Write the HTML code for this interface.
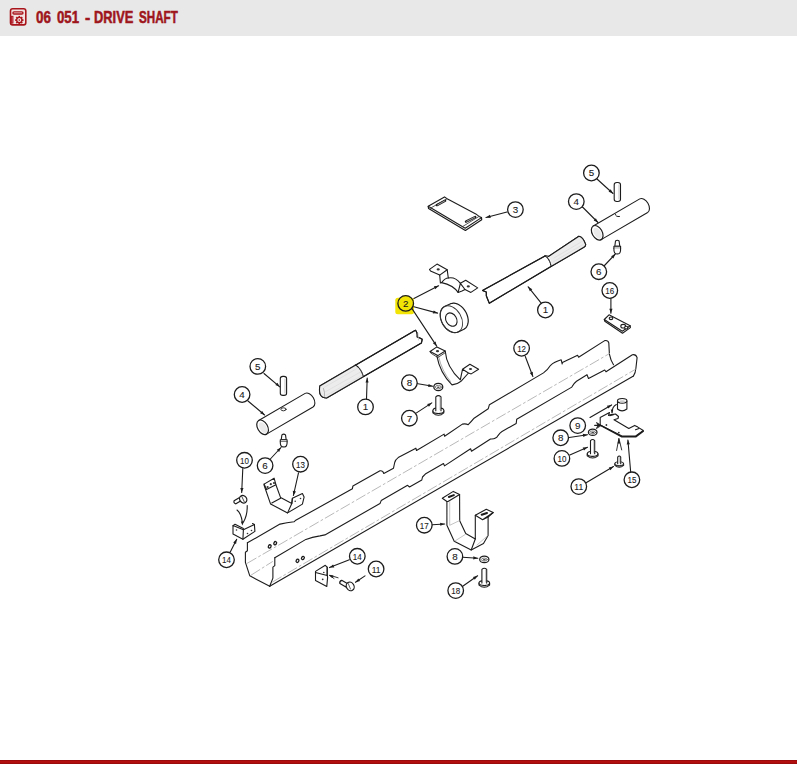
<!DOCTYPE html>
<html><head><meta charset="utf-8"><style>
html,body{margin:0;padding:0;background:#fff;width:797px;height:765px;overflow:hidden;position:relative;font-family:"Liberation Sans",sans-serif;}
#hdr{position:absolute;left:0;top:0;width:797px;height:36px;background:#e8e8e8;}
.tw{position:absolute;top:7px;font-weight:bold;font-size:16.5px;line-height:20px;color:#9e151b;white-space:nowrap;transform-origin:0 0;-webkit-text-stroke:0.55px #9e151b;}
#bot{position:absolute;left:0;top:759.8px;width:797px;height:4px;background:linear-gradient(#8e0a0a,#b30f0f 35%,#b00e0e 65%,#8e0a0a);}
svg{position:absolute;left:0;top:0;}
</style></head><body>
<div id="hdr"></div>
<svg width="40" height="36" style="position:absolute;left:0;top:0">
<rect x="10.5" y="8.8" width="15.3" height="16.1" rx="2.2" fill="#f2e2e2" stroke="#a8151b" stroke-width="1.6"/>
<rect x="12.9" y="11.8" width="10.1" height="2.2" rx="1.1" fill="#f4dcdc" stroke="#a8151b" stroke-width="1.3"/>
<rect x="11.4" y="16.3" width="1.6" height="6.8" fill="#d9607a" stroke="#a8151b" stroke-width="0.9"/>
<g transform="translate(19.3 20.1)"><circle r="2.7" fill="none" stroke="#a8151b" stroke-width="1.4"/><rect x="-0.8" y="-4.2" width="1.6" height="1.8" fill="#a8151b" transform="rotate(0)"/><rect x="-0.8" y="-4.2" width="1.6" height="1.8" fill="#a8151b" transform="rotate(45)"/><rect x="-0.8" y="-4.2" width="1.6" height="1.8" fill="#a8151b" transform="rotate(90)"/><rect x="-0.8" y="-4.2" width="1.6" height="1.8" fill="#a8151b" transform="rotate(135)"/><rect x="-0.8" y="-4.2" width="1.6" height="1.8" fill="#a8151b" transform="rotate(180)"/><rect x="-0.8" y="-4.2" width="1.6" height="1.8" fill="#a8151b" transform="rotate(225)"/><rect x="-0.8" y="-4.2" width="1.6" height="1.8" fill="#a8151b" transform="rotate(270)"/><rect x="-0.8" y="-4.2" width="1.6" height="1.8" fill="#a8151b" transform="rotate(315)"/><circle r="0.8" fill="#a8151b"/></g>
</svg>
<div class="tw" style="left:36.3px;transform:scaleX(0.8111)">06</div><div class="tw" style="left:56.8px;transform:scaleX(0.8000)">051</div><div class="tw" style="left:84.5px;transform:scaleX(0.9600)">-</div><div class="tw" style="left:94.2px;transform:scaleX(0.7796)">DRIVE</div><div class="tw" style="left:139.0px;transform:scaleX(0.7055)">SHAFT</div>
<div id="bot"></div>
<svg width="797" height="765" viewBox="0 0 797 765" style="position:absolute;left:0;top:0" font-family="Liberation Sans, sans-serif">
<g fill="none" stroke="#1c1c1c" stroke-width="1.1" stroke-linejoin="round" stroke-linecap="round">
<path d="M247.4,542.8 L280,524.1 Q287,522.5 294,521.8 L295.3,520.6 L352.4,488.8 L352.9,485.9 L380,470.8 Q383,470.5 383.8,473.5 L393.5,468.2 L394.7,462.5 Q395.5,459.5 398.2,457.6 L415.9,448.2 L416.5,450.5 L444.1,434.1 L444.6,436.3 L462.4,424.1 Q466,423.5 468.2,424.7 Q471,422 474.1,418.2 L488.2,408.8 L489.4,404.7 L543.5,372.9 Q548,369.5 550.6,365.3 Q554,362 561.2,359.8 L562.2,364 L562.4,362.4 L577.6,355.3 L578.6,357.3 L604.7,340.6 Q608,340 608.8,342.9 L609.4,354.1 Q610.5,360 613.5,364.7"/>
<path d="M274.8,557.7 L305.9,539.4 Q312,537 320,535.9 L324.9,534.9 L380,503.5 L381.2,500.6 L407.6,485.3 L409.5,487 L421.8,480 L422.5,477 L425.3,474.1 L443.5,463.5 L444.5,465.9 L470.6,448.8 L471.5,451.2 L490.5,439 Q496,439.5 498,435.6 Q500,432.5 502,431.4 L516.2,423.5 L516.7,419.3 L571.8,387.1 Q574,383 576.5,381.2 L587,374.7 L588.5,378.5 L604.7,370 L606,371.8 L632.4,354.7 Q636,354 637.1,357.6 L635.9,368.2 Q635.5,373 633.5,375.9"/>
<path d="M269.7,586.3 L633.5,375.9"/>
<path d="M247.4,542.8 L247.4,550.7 L245.4,552.2 L245.4,562.4 L249.8,575.8 L269.7,586.3"/>
<path d="M274.8,557.7 L274.8,565.6 L272.9,567.1 L272.9,578.1 L269.7,586.3"/>
<path d="M247.4,563.2 L609.4,353.6" stroke="#b0b0b0" stroke-width="0.9" stroke-dasharray="10 3 2 3"/>
<path d="M251.3,575 L272.5,561.6" stroke="#b0b0b0" stroke-width="0.9" stroke-dasharray="10 3 2 3"/>
<path d="M272.5,582 L635.3,369.4" stroke="#b0b0b0" stroke-width="0.9" stroke-dasharray="10 3 2 3"/>
<ellipse cx="269.7" cy="546.4" rx="1.3" ry="1.7" transform="rotate(30 269.7 546.4)" fill="#fff" stroke-width="1.3"/>
<ellipse cx="275.2" cy="543.2" rx="1.3" ry="1.7" transform="rotate(30 275.2 543.2)" fill="#fff" stroke-width="1.3"/>
<ellipse cx="297.5" cy="560.8" rx="1.3" ry="1.7" transform="rotate(30 297.5 560.8)" fill="#fff" stroke-width="1.3"/>
<ellipse cx="302.9" cy="558" rx="1.3" ry="1.7" transform="rotate(30 302.9 558)" fill="#fff" stroke-width="1.3"/>
<path d="M482.5,290.5 L545,255.9 Q547,255.5 548.5,256.5 L578.9,236.3 Q583,237 585.7,244.6 Q585.5,246.5 583.4,247.6 L551,266.5 L489.3,303.3 Q487.5,299 486.3,295.8 L486.3,292 Z" fill="#fff"/>
<path d="M548.5,256.5 L578.9,236.3 Q583,237 585.7,244.6 Q585.5,246.5 583.4,247.6 L551.5,266 Q551,259 548.5,256.5Z" fill="#ececec" stroke="none"/>
<path d="M554,258 L582,241.5 M553,262 L583,244.5" stroke="#d8d8d8" stroke-width="0.6"/>
<path d="M482.5,290.5 L545,255.9 M548.5,256.5 L578.9,236.3 Q583,237 585.7,244.6 Q585.5,246.5 583.4,247.6 L551,266.5 L489.3,303.3 Q487.5,299 486.3,295.8 L486.3,292 L482.5,290.5"/>
<path d="M545,255.9 Q550,258.9 551,266.5" stroke-dasharray="1.6 0.9"/>
<line x1="541.4" y1="303.3" x2="528.2" y2="286.8"/>
<path d="M528.2,286.8 L532.3,289.3 L529.8,291.3Z" fill="#1c1c1c" stroke="none"/>
<circle cx="545.4" cy="310" r="7.8" fill="#fff" stroke="#1c1c1c" stroke-width="1.3"/>
<text x="545.4" y="313.4" font-size="9.8" text-anchor="middle" fill="#1a1a1a" stroke="#1a1a1a" stroke-width="0.1">1</text>
<path d="M319.8,386 L415.4,330.3 Q417.5,332 417.2,337 Q420,338 422.2,339.3 L421.4,343.1 L326.6,398 Q318,398 319.8,386 Z" fill="#fff"/>
<path d="M319.8,386 L355.2,364.9 Q361,368 363.5,377 L326.6,398 Q318,398 319.8,386 Z" fill="#ececec" stroke="none"/>
<path d="M324,387.5 L357,368.5 M325,392 L360.5,372 M326,395.5 L362,375.5" stroke="#d8d8d8" stroke-width="0.6"/>
<path d="M319.8,386 L415.4,330.3 Q417.5,332 417.2,337 Q420,338 422.2,339.3 L421.4,343.1 L326.6,398 Q318,398 319.8,386"/>
<path d="M323.5,388.5 Q325,392 324.5,396.5" stroke-width="0.7" stroke="#999"/>
<path d="M355.2,364.9 Q361,368 363.5,377" stroke-dasharray="1.6 0.9"/>
<path d="M418,333.5 L418.5,340" stroke="#bbb" stroke-width="0.7"/>
<line x1="366.5" y1="399" x2="367.2" y2="378"/>
<path d="M367.2,378.0 L368.6,382.6 L365.5,382.4Z" fill="#1c1c1c" stroke="none"/>
<circle cx="365.5" cy="406.9" r="7.8" fill="#fff" stroke="#1c1c1c" stroke-width="1.3"/>
<text x="365.5" y="410.3" font-size="9.8" text-anchor="middle" fill="#1a1a1a" stroke="#1a1a1a" stroke-width="0.1">1</text>
<path d="M593.25,225.96 L639.75,198.86 A5,7.9 -30 0 1 647.65,212.54 L601.15,239.64" fill="#fff"/>
<ellipse cx="597.2" cy="232.8" rx="5" ry="7.9" transform="rotate(-30 597.2 232.8)" fill="#fff" stroke-width="1.2"/>
<ellipse cx="597.6" cy="233.2" rx="3.3" ry="6.1" transform="rotate(-30 597.6 233.2)" fill="#eaeaea" stroke="none"/>
<path d="M615.5,214.5 Q615.5,217 619.5,216.5" stroke-width="1"/>
<line x1="582.5" y1="207" x2="598" y2="222.5"/>
<path d="M598.0,222.5 L593.7,220.4 L595.9,218.2Z" fill="#1c1c1c" stroke="none"/>
<circle cx="576.3" cy="201.6" r="7.8" fill="#fff" stroke="#1c1c1c" stroke-width="1.3"/>
<text x="576.3" y="205.0" font-size="9.8" text-anchor="middle" fill="#1a1a1a" stroke="#1a1a1a" stroke-width="0.1">4</text>
<rect x="614.2" y="182.5" width="6.3" height="19" rx="2.6" ry="2.2" fill="#fff"/>
<path d="M619,185 L619,199" stroke="#aaa" stroke-width="0.7"/>
<line x1="597" y1="179" x2="613" y2="193.5"/>
<path d="M613.0,193.5 L608.6,191.7 L610.7,189.3Z" fill="#1c1c1c" stroke="none"/>
<circle cx="591.4" cy="173" r="7.8" fill="#fff" stroke="#1c1c1c" stroke-width="1.3"/>
<text x="591.4" y="176.4" font-size="9.8" text-anchor="middle" fill="#1a1a1a" stroke="#1a1a1a" stroke-width="0.1">5</text>
<path d="M615.5,241.0 Q617.3,239.5 619.1,241.0 L619.8,246.3 L614.8,246.3 Z" fill="#fff"/>
<path d="M613.9,246.3 L620.6,246.3 L620.6,248.3 L613.9,248.3 Z" fill="#fff"/>
<path d="M613.9,248.3 Q613.6,254.4 617.3,253.9 Q620.9,254.4 620.6,248.3" fill="#fff"/>
<line x1="604.5" y1="265.5" x2="615.3" y2="254"/>
<path d="M615.3,254.0 L613.4,258.4 L611.1,256.2Z" fill="#1c1c1c" stroke="none"/>
<circle cx="598.8" cy="271.7" r="7.8" fill="#fff" stroke="#1c1c1c" stroke-width="1.3"/>
<text x="598.8" y="275.1" font-size="9.8" text-anchor="middle" fill="#1a1a1a" stroke="#1a1a1a" stroke-width="0.1">6</text>
<path d="M604.3,319.5 L609,314.8 L630.2,325.8 L622.3,331.3 Z" fill="#fff"/>
<path d="M604.3,319.5 L604.8,321.3 L622.5,333.2 L630.4,327.6 L630.2,325.8" />
<ellipse cx="611" cy="318.3" rx="1.8" ry="1.3" fill="#fff"/>
<ellipse cx="623.2" cy="326.2" rx="2.4" ry="1.8" fill="#fff"/>
<ellipse cx="626.2" cy="327.6" rx="1.6" ry="1.4" fill="#fff"/>
<line x1="610.9" y1="298.4" x2="610.9" y2="313.3"/>
<path d="M610.9,313.3 L609.3,308.8 L612.5,308.8Z" fill="#1c1c1c" stroke="none"/>
<circle cx="609.8" cy="290.5" r="7.8" fill="#fff" stroke="#1c1c1c" stroke-width="1.3"/>
<text x="609.8" y="293.9" font-size="9.8" text-anchor="middle" fill="#1a1a1a" stroke="#1a1a1a" stroke-width="0.1" textLength="8.9" lengthAdjust="spacingAndGlyphs">16</text>
<path d="M428.2,206.3 L444.5,196.9 L447,198.8 L449.5,200.1 L475.8,213.9 L479,216.4 L481.5,217.6 L465.2,228.3 Z" fill="#fff"/>
<path d="M428.2,206.3 L428.6,208.6 L465.4,230.4 L481.7,219.7 L481.5,217.6" stroke-width="1.2"/>
<path d="M447,198.8 L430.4,208.2 M479,216.4 L463.2,226.2" stroke-width="0.9" stroke="#444"/>
<path d="M436.9,205.1 L445.1,200.7 M466,221.6 L475.2,217" stroke-width="2.4"/>
<path d="M437.6,204.9 L444.6,201 M466.7,221.3 L474.6,217.3" stroke-width="0.7" stroke="#ddd"/>
<line x1="507" y1="212" x2="486" y2="217.5"/>
<path d="M486.0,217.5 L489.9,214.8 L490.8,217.9Z" fill="#1c1c1c" stroke="none"/>
<circle cx="515.4" cy="209.6" r="7.8" fill="#fff" stroke="#1c1c1c" stroke-width="1.3"/>
<text x="515.4" y="213.0" font-size="9.8" text-anchor="middle" fill="#1a1a1a" stroke="#1a1a1a" stroke-width="0.1">3</text>
<path d="M429.5,269.4 L437,264.1 L447.2,269.8 L448.3,278 Q455,276.5 460.4,283.3 L465.7,280.3 L477.7,287.9 L470.9,292.4 L465,289.5 L462,291 L458.1,292.4 Q453,285 441.6,282.6 L440.4,283 L439.7,275.1 L430.5,271 Z" fill="#fff"/>
<path d="M439.7,275.1 L447.2,269.8 M458.1,292.4 L460.4,283.3 M460.4,283.3 L465,289.5 M441.6,282.6 Q445,278 448.3,278"/>
<ellipse cx="438.2" cy="269.4" rx="1.6" ry="1.1" fill="#333" stroke="none"/>
<ellipse cx="468.3" cy="286.4" rx="1.6" ry="1.1" fill="#333" stroke="none"/>
<path d="M440.2,315.0 L440.2,313.9 L440.4,312.8 L440.6,311.8 L440.9,310.9 L441.3,310.0 L441.7,309.2 L442.2,308.4 L442.8,307.8 L443.5,307.2 L444.2,306.7 L445.0,306.3 L450.6,303.7 L451.4,303.5 L452.3,303.3 L453.2,303.2 L454.1,303.2 L455.1,303.3 L456.0,303.5 L457.0,303.9 L458.0,304.3 L458.9,304.8 L459.9,305.4 L460.8,306.1 L461.7,306.8 L462.6,307.7 L463.4,308.6 L464.2,309.6 L464.9,310.6 L465.6,311.7 L466.2,312.8 L466.7,313.9 L467.1,315.0 L467.5,316.2 L467.8,317.4 L468.0,318.5 L468.2,319.7 L468.2,320.8 L468.2,321.9 L468.0,323.0 L467.8,324.0 L467.5,324.9 L467.1,325.8 L466.7,326.6 L466.2,327.4 L465.6,328.0 L464.9,328.6 L464.2,329.1 L463.4,329.5 L457.8,332.1 L457.0,332.3 L456.1,332.5 L455.2,332.6 L454.3,332.6 L453.3,332.5 L452.4,332.3 L451.4,331.9 L450.4,331.5 L449.5,331.0 L448.5,330.4 L447.6,329.7 L446.7,329.0 L445.8,328.1 L445.0,327.2 L444.2,326.2 L443.5,325.2 L442.8,324.1 L442.2,323.0 L441.7,321.9 L441.3,320.8 L440.9,319.6 L440.6,318.4 L440.4,317.3 L440.2,316.1Z" fill="#fff" stroke-width="1.2"/>
<ellipse cx="451.4" cy="319.2" rx="9.9" ry="14.4" transform="rotate(-30 451.4 319.2)" fill="none" stroke-width="0.9" stroke="#333"/>
<ellipse cx="451.3" cy="319.6" rx="5.3" ry="7.1" transform="rotate(-30 451.3 319.6)" fill="#fff" stroke-width="1.1"/>
<path d="M430.1,351.5 L436.9,346.9 L445.2,351 L437.8,355.6 Z" fill="#fff"/>
<path d="M436.9,356.1 Q440,373 452,384.9 Q458,384 461.2,381.2 L468.5,373 L462.5,369.3 L469.9,364.3 L478.6,369.3 L471.2,373.9 L468.5,373 M445.2,351 Q446.5,367 460.3,379.9 L462.5,369.3" stroke-width="1.1"/>
<path d="M438.6,356.5 Q441.8,371 450.5,381.5" stroke-width="0.7" stroke="#888"/>
<path d="M430.1,351.5 L430.6,353 L437.8,357.5 L445.4,352.6" stroke-width="0.8"/>
<ellipse cx="437.5" cy="351.2" rx="1.6" ry="1.1" fill="#333" stroke="none"/>
<ellipse cx="470.5" cy="369" rx="1.6" ry="1.1" fill="#333" stroke="none"/>
<rect x="395.3" y="297.8" width="18.7" height="16.5" rx="2.5" fill="#f2e405" stroke="none"/>
<line x1="413.9" y1="298.5" x2="438.6" y2="285.7"/>
<path d="M438.6,285.7 L435.3,289.2 L433.9,286.3Z" fill="#1c1c1c" stroke="none"/>
<line x1="413.9" y1="306.7" x2="437.6" y2="313.1"/>
<path d="M437.6,313.1 L432.8,313.5 L433.7,310.4Z" fill="#1c1c1c" stroke="none"/>
<line x1="412" y1="308.6" x2="436.7" y2="346.1"/>
<path d="M436.7,346.1 L432.9,343.2 L435.6,341.5Z" fill="#1c1c1c" stroke="none"/>
<circle cx="405.7" cy="303.4" r="7.8" fill="#f2e405" stroke="#1c1c1c" stroke-width="1.3"/>
<text x="405.7" y="306.8" font-size="9.8" text-anchor="middle" fill="#1a1a1a" stroke="#1a1a1a" stroke-width="0.1">2</text>
<path d="M258.65,420.46 L305.15,393.36 A5,7.9 -30 0 1 313.05,407.04 L266.55,434.14" fill="#fff"/>
<ellipse cx="262.6" cy="427.3" rx="5" ry="7.9" transform="rotate(-30 262.6 427.3)" fill="#fff" stroke-width="1.2"/>
<ellipse cx="263" cy="427.7" rx="3.3" ry="6.1" transform="rotate(-30 263 427.7)" fill="#eaeaea" stroke="none"/>
<ellipse cx="283.5" cy="409.3" rx="2.6" ry="1.5" fill="#fff" stroke-width="0.9"/>
<line x1="248" y1="401" x2="264.6" y2="415"/>
<path d="M264.6,415.0 L260.1,413.3 L262.2,410.9Z" fill="#1c1c1c" stroke="none"/>
<circle cx="242.1" cy="394.5" r="7.8" fill="#fff" stroke="#1c1c1c" stroke-width="1.3"/>
<text x="242.1" y="397.9" font-size="9.8" text-anchor="middle" fill="#1a1a1a" stroke="#1a1a1a" stroke-width="0.1">4</text>
<rect x="280.3" y="376.4" width="6.3" height="19" rx="2.6" ry="2.2" fill="#fff"/>
<path d="M285,379 L285,393" stroke="#aaa" stroke-width="0.7"/>
<line x1="264" y1="373.5" x2="279.8" y2="386.8"/>
<path d="M279.8,386.8 L275.3,385.1 L277.4,382.7Z" fill="#1c1c1c" stroke="none"/>
<circle cx="257.8" cy="366.4" r="7.8" fill="#fff" stroke="#1c1c1c" stroke-width="1.3"/>
<text x="257.8" y="369.8" font-size="9.8" text-anchor="middle" fill="#1a1a1a" stroke="#1a1a1a" stroke-width="0.1">5</text>
<path d="M281.9,434.9 Q283.7,433.4 285.5,434.9 L286.2,439.8 L281.2,439.8 Z" fill="#fff"/>
<path d="M280.3,439.8 L287.1,439.8 L287.1,441.8 L280.3,441.8 Z" fill="#fff"/>
<path d="M280.3,441.8 Q280.0,447.4 283.7,446.9 Q287.4,447.4 287.1,441.8" fill="#fff"/>
<line x1="269.9" y1="459.5" x2="281" y2="447.5"/>
<path d="M281.0,447.5 L279.1,451.9 L276.8,449.7Z" fill="#1c1c1c" stroke="none"/>
<circle cx="265.1" cy="465.6" r="7.8" fill="#fff" stroke="#1c1c1c" stroke-width="1.3"/>
<text x="265.1" y="469.1" font-size="9.8" text-anchor="middle" fill="#1a1a1a" stroke="#1a1a1a" stroke-width="0.1">6</text>
<ellipse cx="438.3" cy="386.9" rx="4.5" ry="3.6" fill="#fff" stroke-width="1.25"/>
<ellipse cx="438.3" cy="387.1" rx="3.0" ry="1.7" fill="#fff" stroke-width="0.75" stroke="#555"/>
<ellipse cx="438.3" cy="387.2" rx="1.4" ry="0.8" fill="#444" stroke="none"/>
<line x1="416.5" y1="383.5" x2="432.8" y2="386.2"/>
<path d="M432.8,386.2 L428.1,387.0 L428.6,383.9Z" fill="#1c1c1c" stroke="none"/>
<circle cx="409.4" cy="382.7" r="7.8" fill="#fff" stroke="#1c1c1c" stroke-width="1.3"/>
<text x="409.4" y="386.1" font-size="9.8" text-anchor="middle" fill="#1a1a1a" stroke="#1a1a1a" stroke-width="0.1">8</text>
<path d="M432.9,410.7 L432.9,412.8 Q438.4,417.7 443.8,412.8 L443.8,410.7" fill="#fff"/>
<ellipse cx="438.4" cy="410.7" rx="5.5" ry="2.8" fill="#fff"/>
<path d="M435.8,410.7 L435.8,396.8 Q438.4,394.5 441.0,396.8 L441.0,410.7" fill="#fff"/>
<path d="M440.0,397.3 L440.0,409.7" stroke-width="0.6" stroke="#999"/>
<path d="M435.9,415.0 L435.9,413.2 M440.9,415.0 L440.9,413.2" stroke-width="0.6" stroke="#888"/>
<line x1="416.5" y1="412.9" x2="431.8" y2="402.9"/>
<path d="M431.8,402.9 L428.9,406.7 L427.2,404.0Z" fill="#1c1c1c" stroke="none"/>
<circle cx="409.4" cy="418.2" r="7.8" fill="#fff" stroke="#1c1c1c" stroke-width="1.3"/>
<text x="409.4" y="421.6" font-size="9.8" text-anchor="middle" fill="#1a1a1a" stroke="#1a1a1a" stroke-width="0.1">7</text>
<ellipse cx="592.7" cy="432.2" rx="4.3" ry="3.2" fill="#fff" stroke-width="1.25"/>
<ellipse cx="592.7" cy="432.4" rx="2.8" ry="1.5" fill="#fff" stroke-width="0.75" stroke="#555"/>
<ellipse cx="592.7" cy="432.5" rx="1.4" ry="0.7" fill="#444" stroke="none"/>
<line x1="569.2" y1="437.5" x2="587.5" y2="434.7"/>
<path d="M587.5,434.7 L583.3,437.0 L582.8,433.8Z" fill="#1c1c1c" stroke="none"/>
<circle cx="560.7" cy="437.8" r="7.8" fill="#fff" stroke="#1c1c1c" stroke-width="1.3"/>
<text x="560.7" y="441.2" font-size="9.8" text-anchor="middle" fill="#1a1a1a" stroke="#1a1a1a" stroke-width="0.1">8</text>
<path d="M587.2,453.8 L587.2,455.8 Q592.6,460.3 598.0,455.8 L598.0,453.8" fill="#fff"/>
<ellipse cx="592.6" cy="453.8" rx="5.3" ry="2.6" fill="#fff"/>
<path d="M590.5,453.8 L590.5,440.7 Q592.6,438.4 594.7,440.7 L594.7,453.8" fill="#fff"/>
<path d="M593.7,441.2 L593.7,452.8" stroke-width="0.6" stroke="#999"/>
<path d="M590.2,457.8 L590.2,456.1 M595.0,457.8 L595.0,456.1" stroke-width="0.6" stroke="#888"/>
<line x1="569.8" y1="455" x2="587.5" y2="447.3"/>
<path d="M587.5,447.3 L584.0,450.6 L582.7,447.6Z" fill="#1c1c1c" stroke="none"/>
<circle cx="561.9" cy="458.4" r="7.8" fill="#fff" stroke="#1c1c1c" stroke-width="1.3"/>
<text x="561.9" y="461.8" font-size="9.8" text-anchor="middle" fill="#1a1a1a" stroke="#1a1a1a" stroke-width="0.1" textLength="8.9" lengthAdjust="spacingAndGlyphs">10</text>
<path d="M614.9,463.8 L614.9,465.4 Q619.2,468.9 623.6,465.4 L623.6,463.8" fill="#fff"/>
<ellipse cx="619.2" cy="463.8" rx="4.3" ry="2.0" fill="#fff"/>
<path d="M617.7,463.8 L617.7,457.1 Q619.2,454.8 620.7,457.1 L620.7,463.8" fill="#fff"/>
<path d="M619.7,457.6 L619.7,462.8" stroke-width="0.6" stroke="#999"/>
<path d="M617.2,466.8 L617.2,465.6 M621.2,466.8 L621.2,465.6" stroke-width="0.6" stroke="#888"/>
<line x1="586.1" y1="482.7" x2="613.5" y2="466.5"/>
<path d="M613.5,466.5 L610.4,470.2 L608.8,467.4Z" fill="#1c1c1c" stroke="none"/>
<circle cx="578.8" cy="486.6" r="7.8" fill="#fff" stroke="#1c1c1c" stroke-width="1.3"/>
<text x="578.8" y="490.1" font-size="9.8" text-anchor="middle" fill="#1a1a1a" stroke="#1a1a1a" stroke-width="0.1" textLength="8.9" lengthAdjust="spacingAndGlyphs">11</text>
<path d="M616.6,450.5 L618.9,438.3 L621.7,449.9" stroke-width="0.9"/>
<path d="M618.9,438.3 L617.6,443.5 L620.2,443.5 Z" fill="#1c1c1c" stroke="none"/>
<line x1="630.7" y1="472.3" x2="627.9" y2="440"/>
<path d="M627.9,440.0 L629.9,444.3 L626.7,444.6Z" fill="#1c1c1c" stroke="none"/>
<circle cx="631.9" cy="479.8" r="7.8" fill="#fff" stroke="#1c1c1c" stroke-width="1.3"/>
<text x="631.9" y="483.2" font-size="9.8" text-anchor="middle" fill="#1a1a1a" stroke="#1a1a1a" stroke-width="0.1" textLength="8.9" lengthAdjust="spacingAndGlyphs">15</text>
<path d="M617.5,401 L617.5,409 Q622,412.8 626.9,409 L626.9,401" fill="#fff"/>
<ellipse cx="622.2" cy="400.8" rx="4.7" ry="2.3" fill="#fff"/>
<ellipse cx="622.2" cy="401.5" rx="2.8" ry="1.2" fill="#ccc" stroke="none"/>
<path d="M616.3,404.5 Q612,407 612,412.7"/>
<path d="M612,413.5 L610.8,409.5 L613.3,409.8Z" fill="#1c1c1c" stroke="none"/>
<line x1="590" y1="417.5" x2="611.6" y2="404.9"/>
<path d="M611.6,404.9 L608.5,408.5 L606.9,405.8Z" fill="#1c1c1c" stroke="none"/>
<circle cx="577.7" cy="425.6" r="7.8" fill="#fff" stroke="#1c1c1c" stroke-width="1.3"/>
<text x="577.7" y="429.1" font-size="9.8" text-anchor="middle" fill="#1a1a1a" stroke="#1a1a1a" stroke-width="0.1">9</text>
<path d="M600.2,425 L600.2,417.4 L609.5,412.5 L608.5,415.4 L611.5,414.5 L615.5,414 L618.5,416.5 L618,418.5 L614,419.8 L628.8,428.5 L634.7,425.4 L637.8,427.1 L643.3,430.5 L635.7,436 L621.9,436 Z" fill="#fff"/>
<path d="M601.5,425.8 L621.9,436.8 L635.7,436.8 L643.3,431.2" stroke-width="1.5"/>
<path d="M635.5,429.8 L639,428.6 M609.8,415.6 L613.5,414.6"/>
<circle cx="606.4" cy="425" r="0.9" fill="#333" stroke="none"/><circle cx="618.8" cy="432.6" r="0.9" fill="#333" stroke="none"/>
<path d="M594.7,425.3 L600.5,425.3" stroke-width="1.3"/>
<path d="M601,425.3 L596.5,422.5 L598,425.3 L596.5,428.3 Z" fill="#1c1c1c" stroke-width="0.8"/>
<path d="M442.3,498.3 L453.3,491.4 L459.6,494.5 L459.7,520.7 L465.7,533.5 L475.3,539 L475.3,515.2 L486.3,509.3 L493.2,512.5 L488.1,517 L488.1,535.4 L483.5,543.6 L471.2,550 L454.2,541.3 L446.9,525.3 L446.9,501.5 Z" fill="#fff"/>
<path d="M446.9,501.5 L448,501.5 L459.6,494.5 M475.3,515.2 L482.6,519.8 L493.2,512.5 M482.6,519.8 L488.1,517 M475.3,539 L471.2,550"/>
<path d="M449.7,501.5 L449.7,525.3 L459.3,520.7 M455.1,540.9 L465.2,534.5 M477,545 L488,535.4" stroke="#aaa" stroke-width="0.7"/>
<path d="M448.9,497 L453.8,495.1 M481.7,514.8 L487,513" stroke-width="2"/>
<line x1="432.2" y1="524.7" x2="444.7" y2="524"/>
<path d="M444.7,524.0 L440.3,525.8 L440.1,522.7Z" fill="#1c1c1c" stroke="none"/>
<circle cx="424.3" cy="525.2" r="7.8" fill="#fff" stroke="#1c1c1c" stroke-width="1.3"/>
<text x="424.3" y="528.7" font-size="9.8" text-anchor="middle" fill="#1a1a1a" stroke="#1a1a1a" stroke-width="0.1" textLength="8.9" lengthAdjust="spacingAndGlyphs">17</text>
<ellipse cx="484.3" cy="559.4" rx="4.6" ry="3.2" fill="#fff" stroke-width="1.25"/>
<ellipse cx="484.3" cy="559.6" rx="3.0" ry="1.5" fill="#fff" stroke-width="0.75" stroke="#555"/>
<ellipse cx="484.3" cy="559.7" rx="1.5" ry="0.7" fill="#444" stroke="none"/>
<line x1="462.5" y1="557.2" x2="477.8" y2="558.2"/>
<path d="M477.8,558.2 L473.2,559.5 L473.4,556.3Z" fill="#1c1c1c" stroke="none"/>
<circle cx="454.9" cy="556.4" r="7.8" fill="#fff" stroke="#1c1c1c" stroke-width="1.3"/>
<text x="454.9" y="559.9" font-size="9.8" text-anchor="middle" fill="#1a1a1a" stroke="#1a1a1a" stroke-width="0.1">8</text>
<path d="M479.0,583.1 L479.0,585.1 Q484.3,589.5 489.6,585.1 L489.6,583.1" fill="#fff"/>
<ellipse cx="484.3" cy="583.1" rx="5.3" ry="2.5" fill="#fff"/>
<path d="M481.9,583.1 L481.9,569.4 Q484.3,567.1 486.7,569.4 L486.7,583.1" fill="#fff"/>
<path d="M485.7,569.9 L485.7,582.1" stroke-width="0.6" stroke="#999"/>
<path d="M481.9,587.0 L481.9,585.4 M486.7,587.0 L486.7,585.4" stroke-width="0.6" stroke="#888"/>
<line x1="462" y1="586.7" x2="477.6" y2="575.8"/>
<path d="M477.6,575.8 L474.8,579.7 L473.0,577.1Z" fill="#1c1c1c" stroke="none"/>
<circle cx="455.7" cy="590.6" r="7.8" fill="#fff" stroke="#1c1c1c" stroke-width="1.3"/>
<text x="455.7" y="594.1" font-size="9.8" text-anchor="middle" fill="#1a1a1a" stroke="#1a1a1a" stroke-width="0.1" textLength="8.9" lengthAdjust="spacingAndGlyphs">18</text>
<path d="M264.1,484.1 L274.1,478.2 L275.9,484.7 L280.6,497.6 L291.8,503.5 L292.4,498.2 L302.4,493.5 L304.1,497.1 L302.4,504.1 L287.6,512.9 L270.6,504.1 L264.1,485.3 Z" fill="#fff"/>
<path d="M266.5,489.4 L275.9,484.7 M264.1,484.1 L266.5,489.4 M271.8,502.9 L280.6,498.2 M291.8,503.5 L287.6,512.9 M292.4,498.2 L291.8,503.5"/>
<circle cx="267.6" cy="487" r="1.1" fill="#333" stroke="none"/><circle cx="270.8" cy="484.2" r="1.1" fill="#333" stroke="none"/><circle cx="274" cy="483" r="1.1" fill="#333" stroke="none"/>
<circle cx="295.2" cy="501.2" r="0.8" fill="#333" stroke="none"/><circle cx="300.5" cy="498.5" r="0.8" fill="#333" stroke="none"/>
<line x1="298.5" y1="472.9" x2="293.4" y2="495.5"/>
<path d="M293.4,495.5 L292.8,490.8 L296.0,491.5Z" fill="#1c1c1c" stroke="none"/>
<circle cx="300.5" cy="464.2" r="7.8" fill="#fff" stroke="#1c1c1c" stroke-width="1.3"/>
<text x="300.5" y="467.6" font-size="9.8" text-anchor="middle" fill="#1a1a1a" stroke="#1a1a1a" stroke-width="0.1" textLength="8.9" lengthAdjust="spacingAndGlyphs">13</text>
<path d="M234.1,500.8 L239.6,497.5 L241.4,500.5 L235.9,503.8 Q233.3,503.3 234.1,500.8Z" fill="#fff" stroke-width="1.2"/>
<ellipse cx="243.2" cy="499.2" rx="3.4" ry="4" transform="rotate(-35 243.2 499.2)" fill="#fff" stroke-width="1.3"/>
<path d="M241.8,496.5 L244.3,501.8" stroke-width="0.8"/>
<line x1="242.8" y1="468.5" x2="241.7" y2="492.5"/>
<path d="M241.7,492.5 L240.3,487.9 L243.5,488.1Z" fill="#1c1c1c" stroke="none"/>
<circle cx="244.5" cy="460.3" r="7.8" fill="#fff" stroke="#1c1c1c" stroke-width="1.3"/>
<text x="244.5" y="463.8" font-size="9.8" text-anchor="middle" fill="#1a1a1a" stroke="#1a1a1a" stroke-width="0.1" textLength="8.9" lengthAdjust="spacingAndGlyphs">10</text>
<path d="M237,510 Q241,513 242.3,522 M247.2,505.6 Q247.5,515 243.5,522"/>
<path d="M242.4,525.6 L240.8,521.5 L244,521.5 Z" fill="#1c1c1c" stroke="none"/>
<path d="M233,525.6 L233,534 L242.9,539.2 L254.9,531.4 L254.4,524.6 L243.4,529.8 Z" fill="#fff"/>
<path d="M233,525.6 L235,524.3 L243.4,528.5 M243.4,529.8 L242.9,539.2 M254.4,524.6 L252.5,523.5"/>
<circle cx="236.5" cy="530" r="0.8" fill="#333" stroke="none"/><circle cx="247.5" cy="533.5" r="0.8" fill="#333" stroke="none"/><circle cx="251.5" cy="530.5" r="0.8" fill="#333" stroke="none"/>
<line x1="230.4" y1="551.7" x2="236.7" y2="539.2"/>
<path d="M236.7,539.2 L236.1,543.9 L233.2,542.5Z" fill="#1c1c1c" stroke="none"/>
<circle cx="226.5" cy="559.8" r="7.8" fill="#fff" stroke="#1c1c1c" stroke-width="1.3"/>
<text x="226.5" y="563.2" font-size="9.8" text-anchor="middle" fill="#1a1a1a" stroke="#1a1a1a" stroke-width="0.1" textLength="8.9" lengthAdjust="spacingAndGlyphs">14</text>
<path d="M315.5,571.4 L325.3,565.3 L327.2,567.2 L327.2,574.7 L327.6,577.4 L326.8,586.4 L315.5,580.4 Z" fill="#fff"/>
<path d="M315.5,572.5 L327.2,575.5 M327.2,567.2 L327.2,575.5"/>
<circle cx="323.8" cy="572.5" r="0.8" fill="#333" stroke="none"/><circle cx="322.7" cy="579.3" r="0.9" fill="#333" stroke="none"/>
<line x1="349.4" y1="559.7" x2="329.5" y2="567.6"/>
<path d="M329.5,567.6 L333.1,564.5 L334.3,567.4Z" fill="#1c1c1c" stroke="none"/>
<circle cx="357.3" cy="556.3" r="7.8" fill="#fff" stroke="#1c1c1c" stroke-width="1.3"/>
<text x="357.3" y="559.8" font-size="9.8" text-anchor="middle" fill="#1a1a1a" stroke="#1a1a1a" stroke-width="0.1" textLength="8.9" lengthAdjust="spacingAndGlyphs">14</text>
<path d="M341.7,580.3 L347.7,583.7 L345.9,586.9 L339.9,583.5 Q339.2,581 341.7,580.3Z" fill="#fff" stroke-width="1.2"/>
<ellipse cx="350.2" cy="586.4" rx="3.8" ry="4.5" transform="rotate(-30 350.2 586.4)" fill="#fff" stroke-width="1.2"/>
<path d="M348.2,583.5 L350.5,589" stroke-width="0.7"/>
<path d="M338.1,577.8 L330,575.3 M334,578.5 L329.5,575.5" stroke-width="0.9"/>
<path d="M329.1,575.1 L333.5,575.5 L332.2,578 Z" fill="#1c1c1c" stroke="none"/>
<line x1="365" y1="575.9" x2="355.5" y2="582.3"/>
<path d="M355.5,582.3 L358.3,578.5 L360.1,581.1Z" fill="#1c1c1c" stroke="none"/>
<circle cx="376.1" cy="569" r="7.8" fill="#fff" stroke="#1c1c1c" stroke-width="1.3"/>
<text x="376.1" y="572.5" font-size="9.8" text-anchor="middle" fill="#1a1a1a" stroke="#1a1a1a" stroke-width="0.1" textLength="8.9" lengthAdjust="spacingAndGlyphs">11</text>
<line x1="525.3" y1="356.5" x2="532.9" y2="376.5"/>
<path d="M532.9,376.5 L529.8,372.9 L532.8,371.7Z" fill="#1c1c1c" stroke="none"/>
<circle cx="521.6" cy="348.3" r="7.8" fill="#fff" stroke="#1c1c1c" stroke-width="1.3"/>
<text x="521.6" y="351.8" font-size="9.8" text-anchor="middle" fill="#1a1a1a" stroke="#1a1a1a" stroke-width="0.1" textLength="8.9" lengthAdjust="spacingAndGlyphs">12</text>
</g></svg>
</body></html>
